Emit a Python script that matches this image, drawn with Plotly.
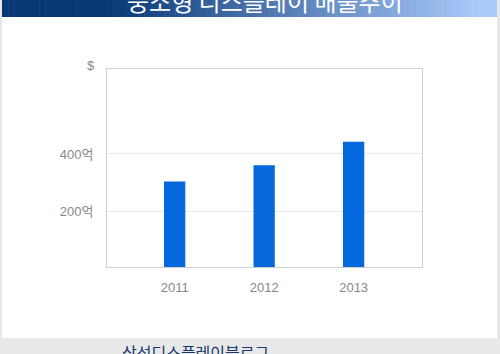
import plotly.graph_objects as go

years = ["2011", "2012", "2013"]
sales = [305, 361, 442]
ytick_vals = [200, 400]
ytick_text = ["200억", "400억"]
title_text = "중소형 디스플레이 매출추이"
footer_text = "삼성디스플레이블로그"

W, H = 500, 354
L, R, T, B = 107, 422, 69, 267


def px(x):
    return (x - L) / (R - L)


def py(y):
    return (B - y) / (B - T)


FONT = "Liberation Sans, Noto Sans CJK KR, sans-serif"

fig = go.Figure()
fig.add_trace(go.Bar(x=years, y=sales, marker=dict(color="#0568dc", line=dict(width=0)),
                     width=0.238, hoverinfo="skip"))

shapes = []
# white card
shapes.append(dict(type="rect", xref="paper", yref="paper", layer="below",
                   x0=px(2), x1=px(497), y0=py(338), y1=py(17),
                   fillcolor="white", line=dict(width=0)))
# gradient header
c0 = (8, 56, 118)
c1 = (170, 202, 250)
n = 80
gx0, gx1 = 110, 480
for i in range(n):
    xa = 2 + (495) * i / n
    xb = 2 + (495) * (i + 1) / n + 0.5
    xm = (xa + xb) / 2
    t = min(max((xm - gx0) / (gx1 - gx0), 0), 1)
    c = tuple(int(round(c0[k] + (c1[k] - c0[k]) * t)) for k in range(3))
    shapes.append(dict(type="rect", xref="paper", yref="paper", layer="below",
                       x0=px(xa), x1=px(min(xb, 497)), y0=py(17), y1=py(-2),
                       fillcolor="rgb(%d,%d,%d)" % c, line=dict(width=0)))

annotations = [
    dict(text=title_text, xref="paper", yref="paper", x=px(265), y=py(0.5),
         showarrow=False, xanchor="center", yanchor="middle",
         font=dict(family="Noto Sans CJK KR", size=24, color="white")),
    dict(text=footer_text, xref="paper", yref="paper", x=px(120), y=py(352),
         showarrow=False, xanchor="left", yanchor="middle",
         font=dict(family="Noto Sans CJK KR", size=16, color="#173a6e")),
    dict(text="$", xref="paper", yref="paper", x=px(97), y=py(65),
         showarrow=False, xanchor="right", yanchor="middle",
         font=dict(family=FONT, size=13, color="#888888")),
]

fig.update_layout(
    width=W, height=H,
    margin=dict(l=L, r=W - R, t=T, b=H - B, pad=0),
    paper_bgcolor="#e8e8e8",
    plot_bgcolor="white",
    showlegend=False,
    shapes=shapes,
    annotations=annotations,
    font=dict(family=FONT, size=13, color="#888888"),
    xaxis=dict(type="category", range=[-0.756, 2.764], showgrid=False,
               showline=True, mirror=True, linecolor="#cfcfcf", linewidth=1,
               ticks="", ticklabelstandoff=8,
               tickfont=dict(size=13, color="#888888"), fixedrange=True),
    yaxis=dict(range=[10, 693], tickvals=ytick_vals, ticktext=ytick_text,
               showgrid=True, gridcolor="#e8e8e8", gridwidth=1,
               showline=True, mirror=True, linecolor="#cfcfcf", linewidth=1,
               zeroline=False, ticks="", ticklabelstandoff=10,
               tickfont=dict(size=13, color="#888888"), fixedrange=True),
)

fig.write_html("out.html", config=dict(displayModeBar=False))
